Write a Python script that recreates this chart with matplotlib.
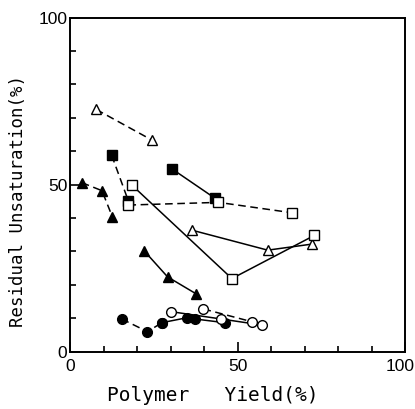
import numpy as np
import matplotlib.pyplot as plt
from matplotlib.ticker import MultipleLocator
from matplotlib.transforms import ScaledTranslation

# open triangles, dashed
ot_d_x = [7.8, 24.5]
ot_d_y = [72.5, 63.3]
# open triangles, solid
ot_s_x = [36.3, 59.0, 72.1]
ot_s_y = [36.4, 30.4, 32.2]
# filled triangles, dashed
ft_d_x = [3.5, 9.5, 12.6]
ft_d_y = [50.6, 48.2, 40.4]
# filled triangles, solid
ft_s_x = [22.1, 29.1, 37.5]
ft_s_y = [30.2, 22.4, 17.4]
# filled squares, dashed
fs_d_x = [12.4, 17.4]
fs_d_y = [58.8, 45.1]
# filled squares, solid
fs_s_x = [30.3, 43.3]
fs_s_y = [54.8, 45.9]
# open squares, dashed
os_d_x = [17.4, 44.3, 66.2]
os_d_y = [43.9, 44.7, 41.6]
# open squares, solid
os_s_x = [18.4, 48.3, 72.9]
os_s_y = [49.9, 21.9, 34.8]
# filled circles, dashed
fc_d_x = [15.4, 23.1, 27.4]
fc_d_y = [9.8, 6.0, 8.7]
# filled circles, solid
fc_s_x = [27.4, 35.0, 37.3, 46.1]
fc_s_y = [8.7, 10.2, 9.8, 8.7]
# open circles, solid
oc_s_x = [30.1, 45.1, 57.2]
oc_s_y = [12.0, 9.8, 8.0]
# open circles, dashed
oc_d_x = [39.8, 54.2]
oc_d_y = [12.8, 9.0]

ticks = [0, 50, 100]
tick_labels = ['0', '50', '100']

fig = plt.figure(figsize=(4.15, 4.09), dpi=100)
ax = fig.add_axes([0.169, 0.140, 0.807, 0.817])

dash = (0, (5, 3))
kw = dict(color='black', lw=1.1, markeredgewidth=1.0, markersize=7)

ax.plot(ot_d_x, ot_d_y, marker='^', mfc='white', ls=dash, **kw)
ax.plot(ot_s_x, ot_s_y, marker='^', mfc='white', ls='-', **kw)
ax.plot(ft_d_x, ft_d_y, marker='^', mfc='black', ls=dash, **kw)
ax.plot(ft_s_x, ft_s_y, marker='^', mfc='black', ls='-', **kw)
ax.plot(fs_d_x, fs_d_y, marker='s', mfc='black', ls=dash, **kw)
ax.plot(fs_s_x, fs_s_y, marker='s', mfc='black', ls='-', **kw)
ax.plot(os_d_x, os_d_y, marker='s', mfc='white', ls=dash, **kw)
ax.plot(os_s_x, os_s_y, marker='s', mfc='white', ls='-', **kw)
ax.plot(fc_d_x, fc_d_y, marker='o', mfc='black', ls=dash, **kw)
ax.plot(fc_s_x, fc_s_y, marker='o', mfc='black', ls='-', **kw)
ax.plot(oc_s_x, oc_s_y, marker='o', mfc='white', ls='-', **kw)
ax.plot(oc_d_x, oc_d_y, marker='o', mfc='white', ls=dash, **kw)

ax.set_xlim(0, 100)
ax.set_ylim(0, 100)
ax.set_xticks(ticks)
ax.set_yticks(ticks)
ax.set_xticklabels(tick_labels, fontsize=12.5, family='Liberation Sans')
ax.set_yticklabels(tick_labels, fontsize=12.5, family='Liberation Sans')
ax.xaxis.set_minor_locator(MultipleLocator(10))
ax.yaxis.set_minor_locator(MultipleLocator(10))
ax.tick_params(which='both', direction='in', top=False, right=False, width=1.2)
ax.tick_params(which='major', length=7)
ax.tick_params(which='minor', length=4)
ax.tick_params(axis='x', pad=5)
ax.tick_params(axis='y', pad=2)
for s in ax.spines.values():
    s.set_linewidth(1.4)

# nudge the last x label left so it stays inside the figure
lab = ax.xaxis.get_major_ticks()[-1].label1
lab.set_transform(lab.get_transform() + ScaledTranslation(-5 / 100, 0, fig.dpi_scale_trans))

ax.set_xlabel('Polymer   Yield(%)', fontsize=14, family='DejaVu Sans Mono')
ax.xaxis.set_label_coords(0.427, -0.103)
ax.set_ylabel('Residual Unsaturation(%)', fontsize=12.5, family='DejaVu Sans Mono')
ax.yaxis.set_label_coords(-0.129, 0.451)

fig.savefig('out.png', dpi=100)
